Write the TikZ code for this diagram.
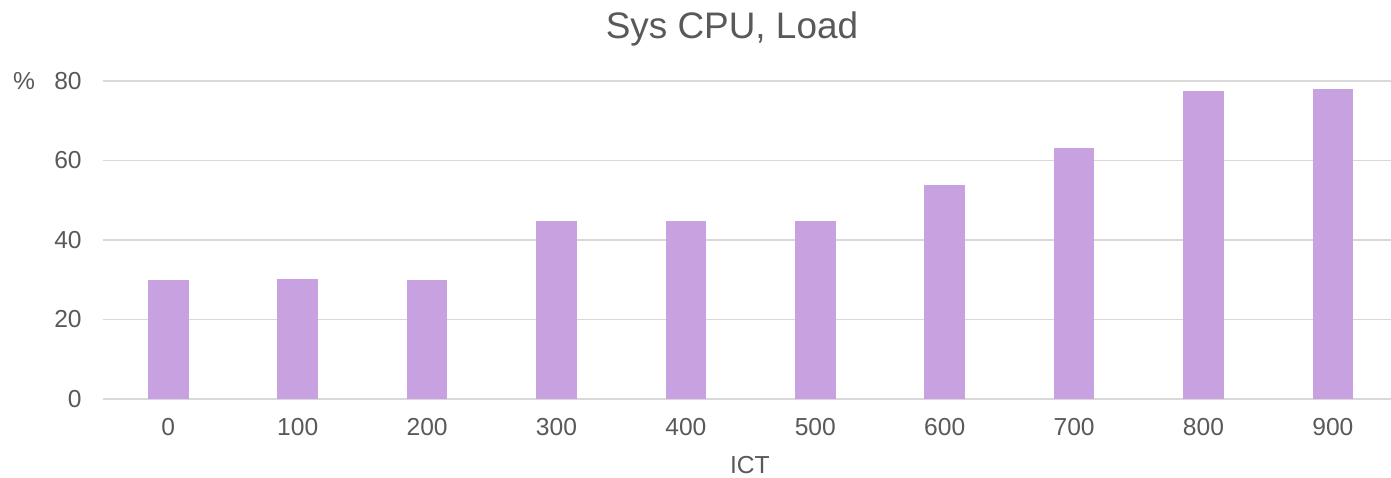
\documentclass[tikz,border=0pt]{standalone}
\usepackage{fontspec}
\setmainfont{Liberation Sans}
\setsansfont{Liberation Sans}
\definecolor{barfill}{HTML}{C8A2E0}
\definecolor{gridgray}{HTML}{D9D9D9}
\definecolor{textgray}{HTML}{595959}

\begin{document}
\begin{tikzpicture}[x=2.588cm,y=0.0795cm,font=\sffamily\fontsize{14}{16}\selectfont,text=textgray]
  \useasboundingbox (-1.3006,-19.87) rectangle (9.449,100.38);
  % gridlines and y labels
  \foreach \v in {0,20,...,80} {
    \draw[gridgray,line width=0.8pt] (-0.505,\v)--(9.449,\v);
    \node[anchor=east,inner sep=0pt] (ylab\v) at (-0.667,\v) {\v};
  }
  \node (unit) at (-1.115,80) {\%};
  % bars, one per ICT value
  \foreach \i/\val in {0/29.9,1/30.1,2/30,3/44.8,4/44.9,5/44.8,6/53.8,7/63.1,8/77.5,9/78.0} {
    \fill[barfill] (\i-0.157,0) rectangle (\i+0.157,\val);
    \pgfmathtruncatemacro{\ict}{100*\i}
    \node (xlab\i) at (\i,-7.17) {\ict};
  }
  \node (xtitle) at (4.494,-16.6) {ICT};
  \node[anchor=base,font=\sffamily\fontsize{21}{24}\selectfont] (title) at (4.356,90.8) {Sys CPU, Load};
\end{tikzpicture}
\end{document}
